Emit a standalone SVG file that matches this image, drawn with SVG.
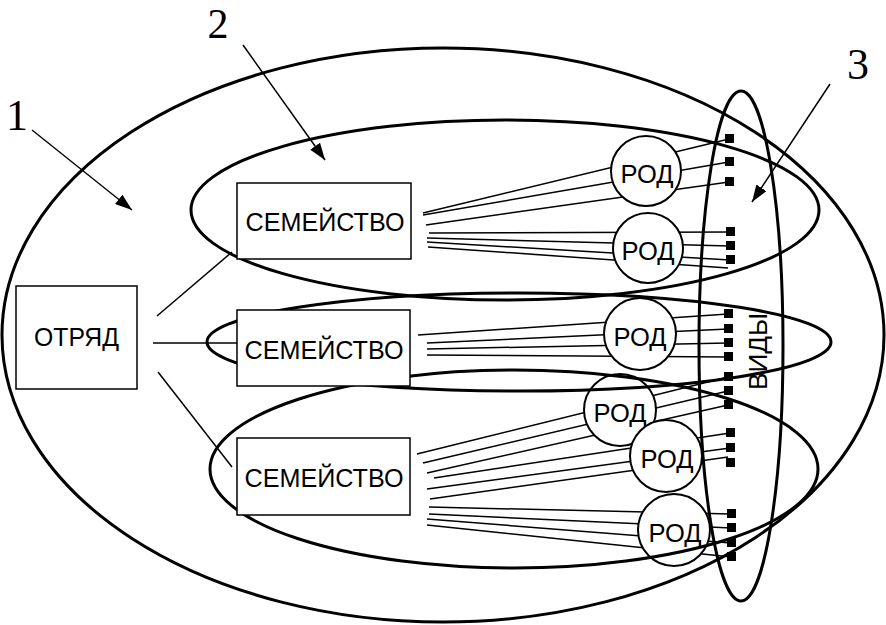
<svg xmlns="http://www.w3.org/2000/svg" width="886" height="625" viewBox="0 0 886 625">
<style>
.fan{stroke:#000;stroke-width:1.5;fill:none}
.link{stroke:#000;stroke-width:1.5;fill:none}
.rod{fill:#fff;stroke:#000;stroke-width:2}
.sq{fill:#000}
.ell{fill:none;stroke:#000;stroke-width:3}
.box{fill:#fff;stroke:#000;stroke-width:1.5}
.t{font-family:"Liberation Sans",Arial,sans-serif;font-size:26px;text-anchor:middle;fill:#000}
.num{font-family:"Liberation Serif","Times New Roman",serif;font-size:44px;text-anchor:middle;fill:#000}
.arr{stroke:#000;stroke-width:1.5;fill:none;marker-end:url(#ah)}
</style>
<defs>
<marker id="ah" markerUnits="userSpaceOnUse" markerWidth="18" markerHeight="12" refX="17" refY="6" orient="auto">
<path d="M0,0 L17,6 L0,12 Z" fill="#000"/>
</marker>
</defs>
<rect width="886" height="625" fill="#fff"/>
<g id="connectors">
<line class="link" x1="157" y1="316" x2="232" y2="252"/>
<line class="link" x1="153" y1="343" x2="237" y2="343"/>
<line class="link" x1="158" y1="372" x2="232" y2="467"/>
<line class="fan" x1="423" y1="213" x2="729" y2="139"/>
<line class="fan" x1="423" y1="215" x2="729" y2="162"/>
<line class="fan" x1="426" y1="225" x2="729" y2="182"/>
<line class="fan" x1="429" y1="233" x2="730" y2="232"/>
<line class="fan" x1="427" y1="238" x2="730" y2="246"/>
<line class="fan" x1="427" y1="242" x2="730" y2="260"/>
<line class="fan" x1="428" y1="247" x2="728" y2="268"/>
<line class="fan" x1="418" y1="335" x2="728" y2="314"/>
<line class="fan" x1="427" y1="343" x2="728" y2="329"/>
<line class="fan" x1="427" y1="349" x2="728" y2="343"/>
<line class="fan" x1="427" y1="355" x2="728" y2="357"/>
<line class="fan" x1="417" y1="454" x2="728" y2="377"/>
<line class="fan" x1="423" y1="463" x2="728" y2="391"/>
<line class="fan" x1="427" y1="473" x2="728" y2="405"/>
<line class="fan" x1="434" y1="478" x2="730" y2="433"/>
<line class="fan" x1="427" y1="489" x2="730" y2="448"/>
<line class="fan" x1="430" y1="499" x2="728" y2="457"/>
<line class="fan" x1="429" y1="507" x2="731" y2="514"/>
<line class="fan" x1="429" y1="514" x2="731" y2="528"/>
<line class="fan" x1="427" y1="519" x2="731" y2="543"/>
<line class="fan" x1="427" y1="525" x2="731" y2="557"/>
</g>
<g id="rod1"><circle class="rod" cx="646" cy="171" r="35"/><text class="t" x="647" y="183" textLength="53" lengthAdjust="spacingAndGlyphs">РОД</text></g>
<g id="rod2"><circle class="rod" cx="648" cy="248" r="35"/><text class="t" x="648" y="260" textLength="53" lengthAdjust="spacingAndGlyphs">РОД</text></g>
<g id="rod3"><circle class="rod" cx="640" cy="334" r="36"/><text class="t" x="640" y="346" textLength="53" lengthAdjust="spacingAndGlyphs">РОД</text></g>
<g id="rod4"><circle class="rod" cx="620" cy="410" r="36"/><text class="t" x="620" y="422" textLength="53" lengthAdjust="spacingAndGlyphs">РОД</text></g>
<g id="rod5"><circle class="rod" cx="666" cy="456" r="36"/><text class="t" x="667" y="468" textLength="53" lengthAdjust="spacingAndGlyphs">РОД</text></g>
<g id="rod6"><circle class="rod" cx="674" cy="530" r="36"/><text class="t" x="675" y="542" textLength="53" lengthAdjust="spacingAndGlyphs">РОД</text></g>
<g id="species">
<rect class="sq" x="725" y="134" width="9" height="9"/>
<rect class="sq" x="725" y="157" width="9" height="9"/>
<rect class="sq" x="725" y="177" width="9" height="9"/>
<rect class="sq" x="726" y="227" width="9" height="9"/>
<rect class="sq" x="726" y="241" width="9" height="9"/>
<rect class="sq" x="726" y="255" width="9" height="9"/>
<rect class="sq" x="724" y="309" width="9" height="9"/>
<rect class="sq" x="724" y="324" width="9" height="9"/>
<rect class="sq" x="724" y="338" width="9" height="9"/>
<rect class="sq" x="724" y="352" width="9" height="9"/>
<rect class="sq" x="724" y="372" width="9" height="9"/>
<rect class="sq" x="724" y="386" width="9" height="9"/>
<rect class="sq" x="724" y="400" width="9" height="9"/>
<rect class="sq" x="726" y="428" width="9" height="9"/>
<rect class="sq" x="726" y="443" width="9" height="9"/>
<rect class="sq" x="726" y="458" width="9" height="9"/>
<rect class="sq" x="727" y="509" width="9" height="9"/>
<rect class="sq" x="727" y="523" width="9" height="9"/>
<rect class="sq" x="727" y="538" width="9" height="9"/>
<rect class="sq" x="727" y="552" width="9" height="9"/>
</g>
<g id="order-set"><ellipse class="ell" cx="443" cy="335" rx="441" ry="287"/></g>
<g id="family-set-top"><ellipse class="ell" cx="505" cy="210" rx="314" ry="90"/></g>
<g id="family-set-mid"><ellipse class="ell" cx="519" cy="342" rx="312" ry="49"/></g>
<g id="family-set-bot"><ellipse class="ell" cx="514" cy="469" rx="304" ry="99"/></g>
<g id="species-set"><ellipse class="ell" cx="741" cy="346" rx="42" ry="255"/><text class="t" transform="translate(767,351.5) rotate(-90)" x="0" y="0" textLength="77" lengthAdjust="spacingAndGlyphs">ВИДЫ</text></g>
<g id="otryad"><rect class="box" x="16" y="286" width="121" height="103"/><text class="t" x="76.5" y="346" textLength="85" lengthAdjust="spacingAndGlyphs">ОТРЯД</text></g>
<g id="family1"><rect class="box" x="237" y="183" width="174" height="76"/><text class="t" x="325" y="231" textLength="159" lengthAdjust="spacingAndGlyphs">СЕМЕЙСТВО</text></g>
<g id="family2"><rect class="box" x="237" y="310" width="173" height="76"/><text class="t" x="324" y="359" textLength="159" lengthAdjust="spacingAndGlyphs">СЕМЕЙСТВО</text></g>
<g id="family3"><rect class="box" x="237" y="438" width="173" height="77"/><text class="t" x="324" y="487" textLength="159" lengthAdjust="spacingAndGlyphs">СЕМЕЙСТВО</text></g>
<g id="callouts">
<text class="num" x="17" y="130">1</text>
<text class="num" x="218" y="38" style="font-size:42px">2</text>
<text class="num" x="858" y="79">3</text>
<line class="arr" x1="32" y1="130" x2="132" y2="210"/>
<line class="arr" x1="243" y1="45" x2="325" y2="160"/>
<line class="arr" x1="830" y1="84" x2="752" y2="202"/>
</g>
</svg>
